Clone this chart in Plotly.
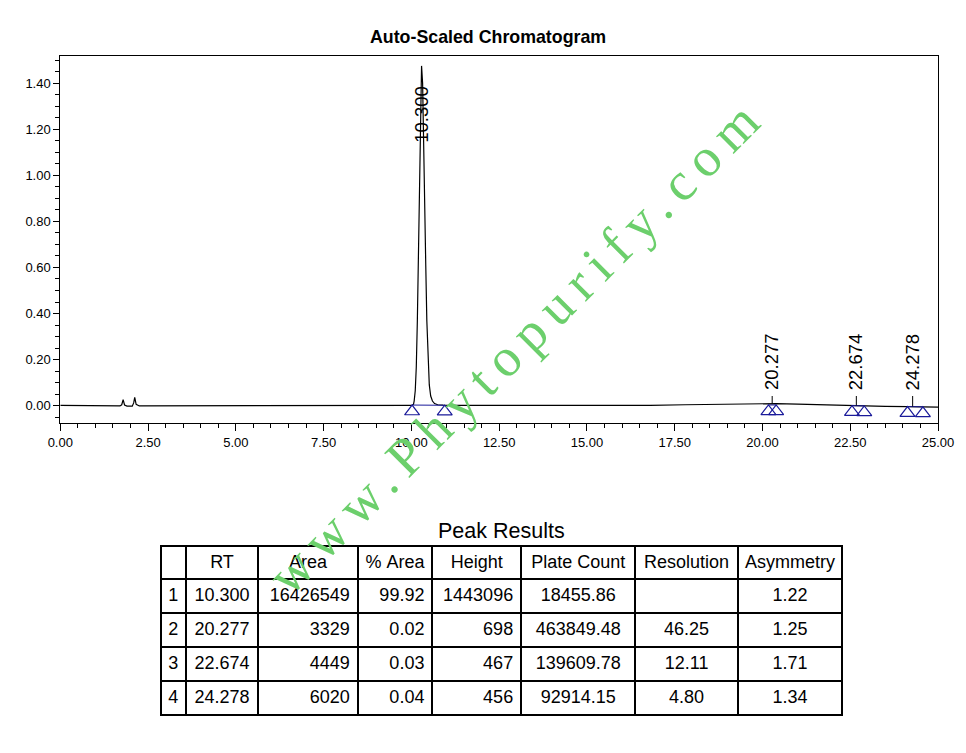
import numpy as np
import plotly.graph_objects as go

# ---------------- data ----------------
time_min = [0.00, 1.10, 1.15, 1.70, 1.75, 1.79, 1.83, 1.90, 2.05, 2.09, 2.12, 2.16, 2.25,
            3.35, 3.40, 5.00, 7.50, 9.00, 10.00, 10.06, 10.08, 10.11, 10.14, 10.17, 10.20,
            10.23, 10.26, 10.29, 10.32, 10.35, 10.38, 10.41, 10.44, 10.47, 10.51, 10.55,
            10.60, 10.66, 10.75, 10.90, 11.10, 12.50, 14.00, 15.50, 16.80, 17.80, 18.80,
            19.60, 20.17, 20.28, 20.39, 21.00, 21.80, 22.55, 22.67, 22.90, 23.50, 24.13,
            24.28, 24.57, 25.00]
signal_v = [0.001, 0.001, -0.001, -0.001, 0.004, 0.026, 0.003, -0.002, -0.002, 0.012, 0.036,
            0.006, -0.001, -0.001, 0.001, 0.001, 0.001, 0.001, 0.001, 0.006, 0.021, 0.065,
            0.169, 0.369, 0.677, 1.046, 1.357, 1.475, 1.400, 1.185, 0.898, 0.608, 0.369,
            0.205, 0.090, 0.042, 0.020, 0.009, 0.004, 0.002, 0.001, 0.001, 0.001, 0.000,
            0.001, 0.004, 0.007, 0.009, 0.009, 0.010, 0.009, 0.007, 0.003, 0.000, 0.001,
            -0.001, -0.003, -0.004, -0.004, -0.005, -0.006]

peak_rt = [10.300, 20.277, 22.674, 24.278]
peak_labels = ["10.300", "20.277", "22.674", "24.278"]
peak_start = [10.02, 20.17, 22.55, 24.13]
peak_end = [10.95, 20.39, 22.90, 24.57]

x_ticks = [0.0, 2.5, 5.0, 7.5, 10.0, 12.5, 15.0, 17.5, 20.0, 22.5, 25.0]
y_ticks = [0.0, 0.2, 0.4, 0.6, 0.8, 1.0, 1.2, 1.4]

tbl_header = ["", "RT", "Area", "%\u00a0Area", "Height", "Plate\u00a0Count", "Resolution", "Asymmetry"]
tbl_index = ["1", "2", "3", "4"]
tbl_rt = ["10.300", "20.277", "22.674", "24.278"]
tbl_area = ["16426549", "3329", "4449", "6020"]
tbl_pct_area = ["99.92", "0.02", "0.03", "0.04"]
tbl_height = ["1443096", "698", "467", "456"]
tbl_plates = ["18455.86", "463849.48", "139609.78", "92914.15"]
tbl_resolution = ["", "46.25", "12.11", "4.80"]
tbl_asymmetry = ["1.22", "1.25", "1.71", "1.34"]

# ---------------- layout constants ----------------
W, H = 966, 753
px = lambda v: v / W
py = lambda v: 1 - v / H
FONT = "Arial, Liberation Sans, sans-serif"
MARK_BLUE = "#1a1a9a"

fig = go.Figure()

# chromatogram trace
fig.add_trace(go.Scatter(x=time_min, y=signal_v, mode="lines",
                         line=dict(color="black", width=1.2),
                         hoverinfo="skip", showlegend=False))

# baselines + start/end markers
base_s = np.interp(peak_start, time_min, signal_v)
base_e = np.interp(peak_end, time_min, signal_v)
for s, e, bs, be in zip(peak_start, peak_end, base_s, base_e):
    fig.add_trace(go.Scatter(x=[s, e], y=[min(bs, 0.003), min(be, 0.003)], mode="lines",
                             line=dict(color=MARK_BLUE, width=1),
                             hoverinfo="skip", showlegend=False))
tri_off = -0.028
fig.add_trace(go.Scatter(
    x=peak_start + peak_end,
    y=[min(v, 0.003) + tri_off for v in list(base_s) + list(base_e)],
    mode="markers",
    marker=dict(symbol="triangle-up-open", size=13, color=MARK_BLUE,
                line=dict(width=1.2, color=MARK_BLUE)),
    hoverinfo="skip", showlegend=False))

# label tick lines for small peaks
rt_level = np.interp(peak_rt, time_min, signal_v)
for rt, lvl in zip(peak_rt[1:], rt_level[1:]):
    fig.add_trace(go.Scatter(x=[rt, rt], y=[lvl, 0.042], mode="lines",
                             line=dict(color="black", width=1),
                             hoverinfo="skip", showlegend=False))

# peak labels
label_y = [1.267, 0.19, 0.19, 0.19]
for rt, lab, ly in zip(peak_rt, peak_labels, label_y):
    fig.add_annotation(x=rt, y=ly, xref="x", yref="y", text=lab, textangle=-90,
                       showarrow=False, xanchor="center", yanchor="middle",
                       font=dict(family=FONT, size=18.5, color="black"))

# table
fig.add_trace(go.Table(
    domain=dict(x=[px(161), px(842)], y=[py(716), py(546)]),
    columnwidth=[24.7, 72.6, 99.4, 74.6, 88.7, 114, 102.7, 104],
    header=dict(values=tbl_header, align="center", height=33,
                line=dict(color="black", width=2), fill=dict(color="white"),
                font=dict(family=FONT, size=18, color="black")),
    cells=dict(values=[tbl_index, tbl_rt, tbl_area, tbl_pct_area, tbl_height,
                       tbl_plates, tbl_resolution, tbl_asymmetry],
               align=["center", "center", "right", "right", "right", "center", "center", "center"],
               height=34, line=dict(color="black", width=2), fill=dict(color="white"),
               font=dict(family=FONT, size=18, color="black"))))

# titles
fig.add_annotation(x=px(487.5), y=py(37), xref="paper", yref="paper",
                   text="<b>Auto-Scaled Chromatogram</b>", showarrow=False,
                   xanchor="center", yanchor="middle",
                   font=dict(family=FONT, size=17.8, color="black"))
fig.add_annotation(x=px(502), y=py(531), xref="paper", yref="paper",
                   text="Peak Results", showarrow=False,
                   xanchor="center", yanchor="middle",
                   font=dict(family=FONT, size=21.5, color="black"))

# watermark
fig.add_annotation(x=px(517), y=py(345), xref="paper", yref="paper",
                   text="<span style='letter-spacing:10px'>www.Phytopurify.com</span>",
                   textangle=-45, showarrow=False, xanchor="center", yanchor="middle",
                   font=dict(family="Liberation Serif, Times New Roman, serif", size=54,
                             color="#6ccf6c"))

fig.update_layout(
    width=W, height=H, autosize=False,
    margin=dict(l=0, r=0, t=0, b=0, pad=0),
    paper_bgcolor="white", plot_bgcolor="white",
    showlegend=False,
    xaxis=dict(domain=[px(60.3), px(938)], range=[0, 25], automargin=False,
               tickvals=x_ticks, ticktext=[f"{v:.2f}" for v in x_ticks],
               ticks="outside", ticklen=7, tickwidth=1, tickcolor="black",
               minor=dict(dtick=0.5, tick0=0, ticks="outside", ticklen=4,
                          tickcolor="black", tickwidth=1),
               showgrid=False, zeroline=False, showline=True, linecolor="black",
               linewidth=1, mirror=True,
               tickfont=dict(family=FONT, size=13, color="black")),
    yaxis=dict(domain=[py(423.3), py(56)], range=[-0.0765, 1.518], automargin=False,
               tickvals=y_ticks, ticktext=[f"{v:.2f}" for v in y_ticks],
               ticks="outside", ticklen=6, tickwidth=1, tickcolor="black",
               minor=dict(dtick=0.05, tick0=0, ticks="outside", ticklen=4,
                          tickcolor="black", tickwidth=1),
               showgrid=False, zeroline=False, showline=True, linecolor="black",
               linewidth=1, mirror=True,
               tickfont=dict(family=FONT, size=13, color="black")),
)

fig.write_html("out.html", config={"displayModeBar": False},
               post_script="document.body.style.margin='0';document.body.style.overflow='hidden';")
